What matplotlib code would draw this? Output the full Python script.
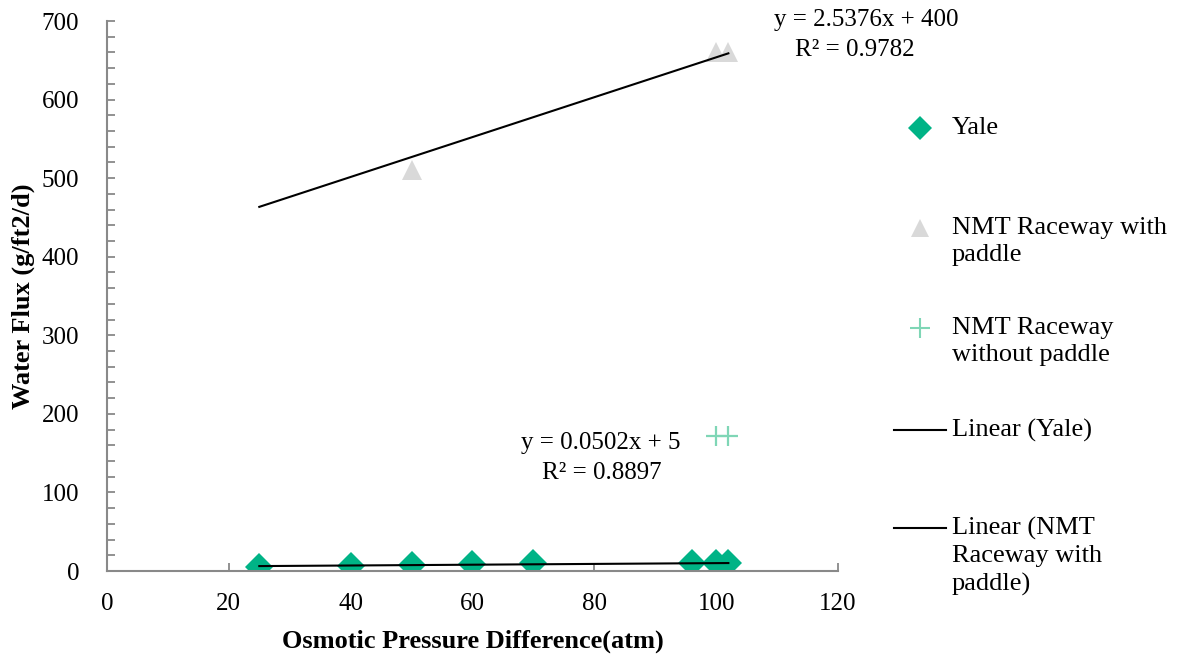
import matplotlib.pyplot as plt
from matplotlib.lines import Line2D
import numpy as np

# data
yale_x = [25, 40, 50, 60, 70, 96, 100, 102]
yale_y = [5.5, 6.5, 7.5, 8.5, 10, 10, 10, 10.5]
paddle_x = [50, 100, 102]
paddle_y = [510, 660, 660]
nopaddle_x = [100, 102]
nopaddle_y = [172, 172]

# trendlines (Excel, fixed intercept)
yale_fit = (0.0502, 5)
paddle_fit = (2.5376, 400)
trend_x = [25, 102]

GREEN = '#00B386'
GREY = '#D9D9D9'
LIGHT_GREEN = '#7FD6B6'

plt.rcParams['font.family'] = ['Liberation Serif', 'DejaVu Serif']

fig = plt.figure(figsize=(11.82, 6.58), dpi=100)
ax = fig.add_axes([107/1182, 87/658, 731/1182, 550/658])

tx = np.array(trend_x)
ax.plot(tx, yale_fit[0]*tx + yale_fit[1], color='black', lw=1.5, zorder=3)
ax.plot(tx, paddle_fit[0]*tx + paddle_fit[1], color='black', lw=1.5, zorder=3)

ax.plot(yale_x, yale_y, 'D', color=GREEN, ms=14, mew=0, zorder=2)
ax.plot(paddle_x, paddle_y, '^', color=GREY, ms=14, mew=0, zorder=2)
ax.plot(nopaddle_x, nopaddle_y, '+', color=LIGHT_GREEN, ms=15, mew=1.6, zorder=2)

ax.set_xlim(0, 120)
ax.set_ylim(0, 700)
ax.set_xticks(range(0, 121, 20))
ax.set_yticks(range(0, 701, 100))
ax.set_yticks(range(0, 701, 20), minor=True)
for s in ['top', 'right']:
    ax.spines[s].set_visible(False)
for s in ['left', 'bottom']:
    ax.spines[s].set_color('#898989')
    ax.spines[s].set_linewidth(1.5)
ax.tick_params(axis='both', which='both', direction='in', color='#898989', width=1.3,
               labelsize=18, length=6)
ax.tick_params(axis='x', pad=16)
ax.tick_params(axis='y', pad=20)

ax.set_xlabel('Osmotic Pressure Difference(atm)', fontsize=19, fontweight='bold', labelpad=10)
ax.set_ylabel('Water Flux (g/ft2/d)', fontsize=19, fontweight='bold', labelpad=5)

ax.text(866/1182, 638/658, 'y = 2.5376x + 400', transform=fig.transFigure,
        fontsize=18, ha='center', va='center')
ax.text(855/1182, 608/658, 'R² = 0.9782', transform=fig.transFigure,
        fontsize=18, ha='center', va='center')
ax.text(601/1182, 215/658, 'y = 0.0502x + 5', transform=fig.transFigure,
        fontsize=18, ha='center', va='center')
ax.text(602/1182, 185/658, 'R² = 0.8897', transform=fig.transFigure,
        fontsize=18, ha='center', va='center')

# legend drawn by hand to keep Excel's fixed slots
legend = [
    (128, 'Yale', dict(marker='D', color=GREEN, ms=12, mew=0, ls='none')),
    (228, 'NMT Raceway with\npaddle', dict(marker='^', color=GREY, ms=13, mew=0, ls='none')),
    (328, 'NMT Raceway\nwithout paddle', dict(marker='+', color=LIGHT_GREEN, ms=14, mew=1.5, ls='none')),
    (430, 'Linear (Yale)', dict(color='black', lw=1.5)),
    (528, 'Linear (NMT\nRaceway with\npaddle)', dict(color='black', lw=1.5)),
]
for ypix, label, style in legend:
    yf = 1 - ypix/658
    if style.get('ls') == 'none':
        fig.add_artist(Line2D([920/1182], [yf], transform=fig.transFigure, **style))
    else:
        fig.add_artist(Line2D([894/1182, 946/1182], [yf, yf], transform=fig.transFigure, **style))
    fig.text(952/1182, yf + 11/658, label, fontsize=19, ha='left', va='top', linespacing=1.3,
             transform=fig.transFigure)

fig.savefig('out.png', dpi=100)
